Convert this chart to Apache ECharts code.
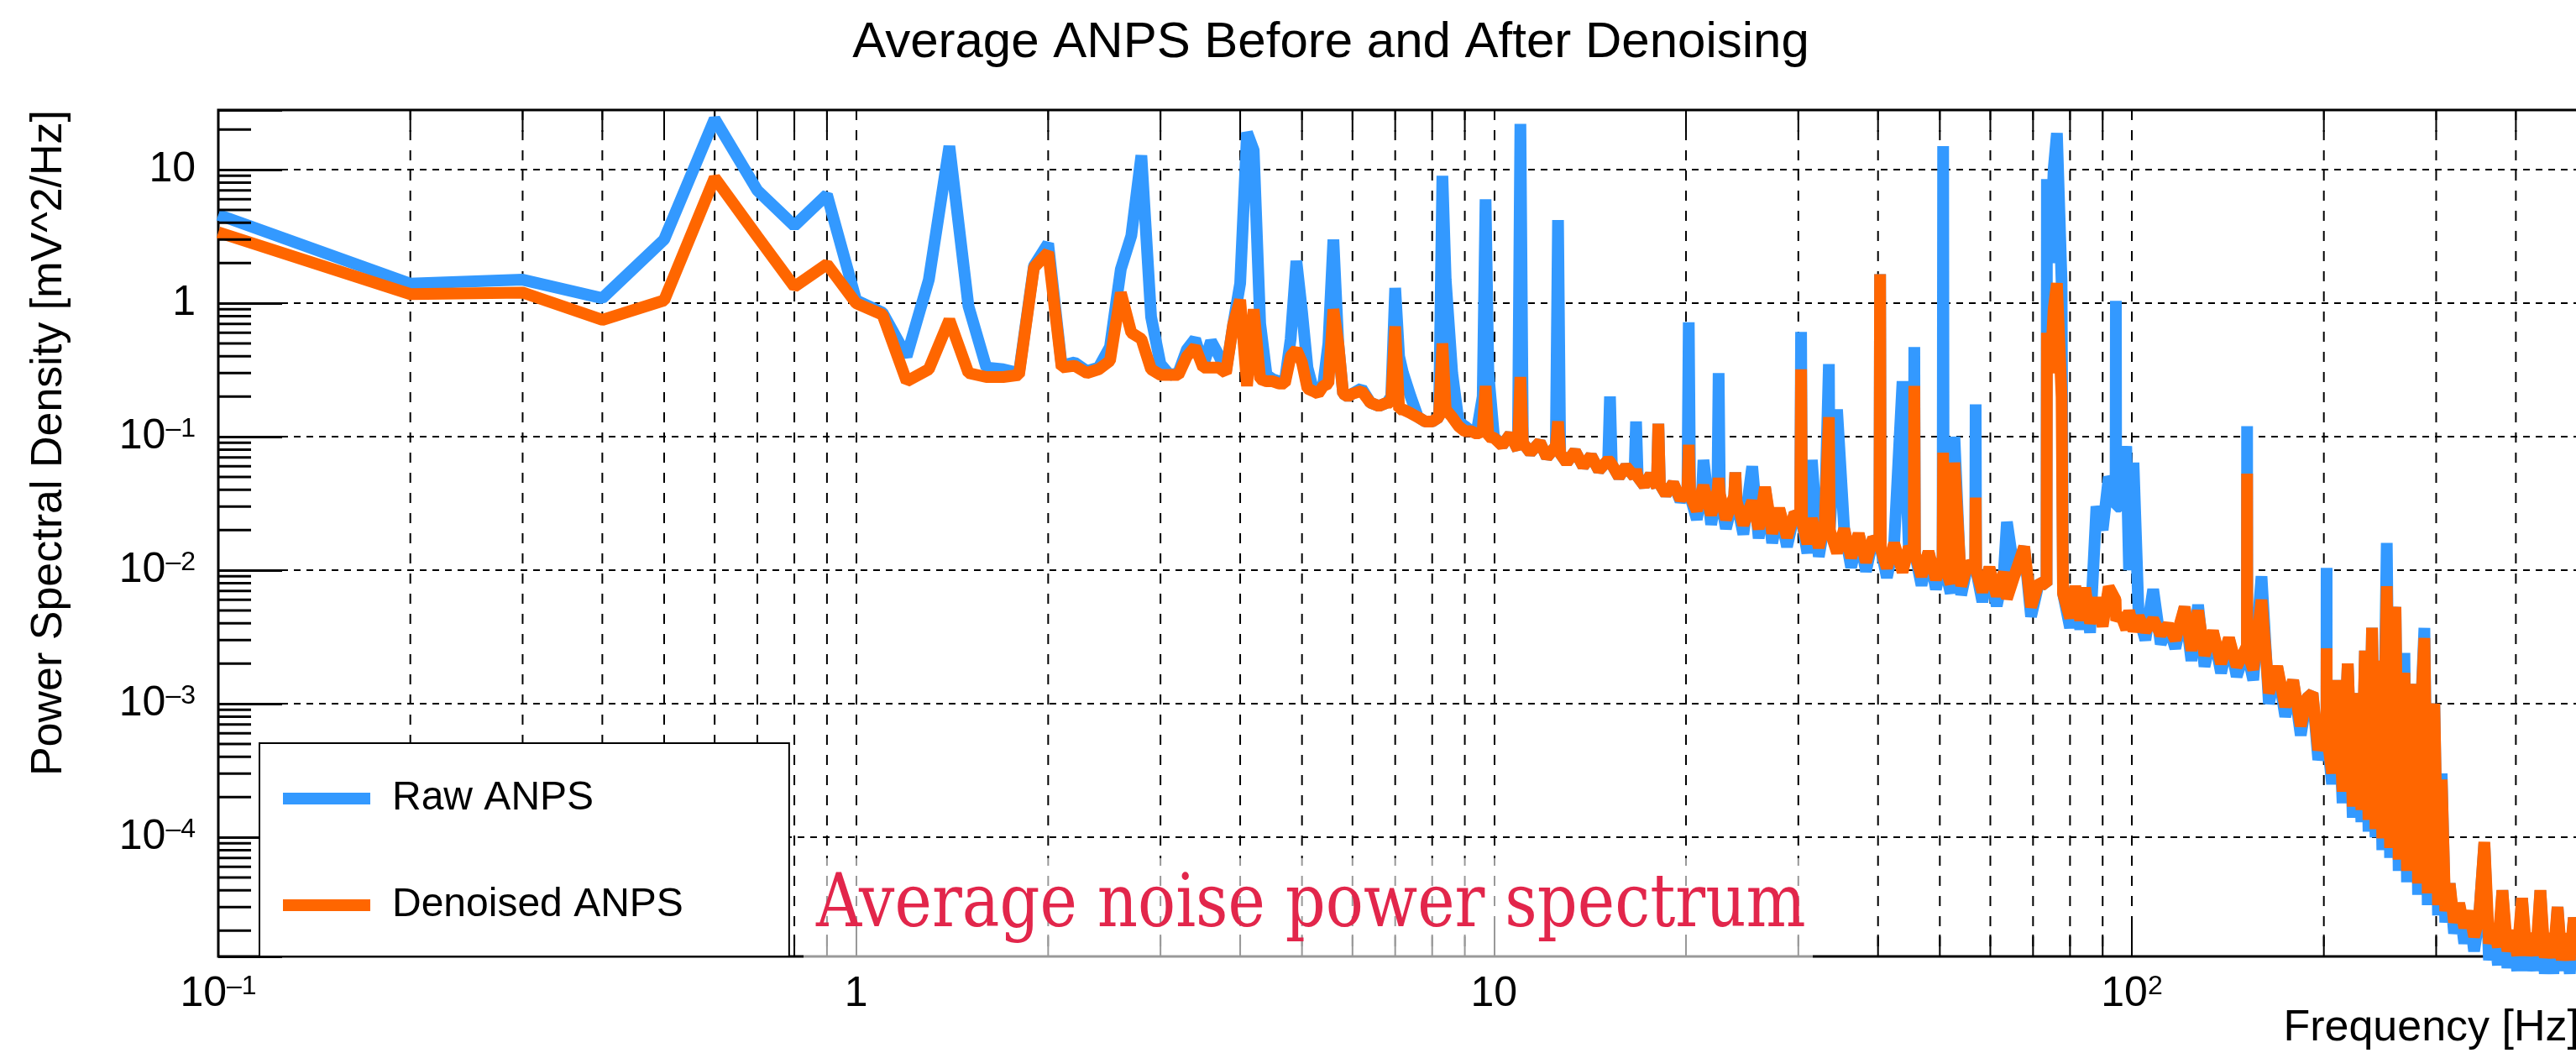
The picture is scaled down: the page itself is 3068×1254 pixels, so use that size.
<!DOCTYPE html>
<html>
<head>
<meta charset="utf-8">
<title>Average ANPS Before and After Denoising</title>
<script src="https://cdn.jsdelivr.net/npm/echarts@6/dist/echarts.min.js"></script>
<style>
  html, body { margin: 0; padding: 0; background: #fff; }
  #main { width: 3068px; height: 1254px; }
</style>
</head>
<body>
<div id="main"></div>
<script>
// frequency bins [Hz]
const freq = [
  0.1, 0.2, 0.3, 0.4, 0.5, 0.6, 0.7, 0.8, 0.9, 1.0,
  1.1, 1.2, 1.3, 1.4, 1.5, 1.6, 1.7, 1.8, 1.9, 2.0,
  2.1, 2.2, 2.3, 2.4, 2.5, 2.6, 2.7, 2.8, 2.9, 3.0,
  3.1, 3.2, 3.3, 3.4, 3.5, 3.6, 3.7, 3.8, 3.9, 4.0,
  4.1, 4.2, 4.3, 4.4, 4.5, 4.6, 4.7, 4.8, 4.9, 5.0,
  5.1, 5.2, 5.3, 5.4, 5.5, 5.6, 5.7, 5.8, 5.9, 6.0,
  6.2, 6.4, 6.6, 6.8, 6.9, 7.0, 7.1, 7.2, 7.4, 7.6,
  7.8, 8.0, 8.2, 8.3, 8.4, 8.6, 8.8, 9.0, 9.2, 9.4,
  9.6, 9.7, 9.8, 10.0, 10.3, 10.6, 10.9, 11.0, 11.1, 11.4,
  11.8, 12.1, 12.5, 12.6, 12.7, 13.0, 13.4, 13.8, 14.2, 14.6,
  15.1, 15.2, 15.3, 15.7, 16.1, 16.6, 16.7, 16.8, 17.2, 17.6,
  18.0, 18.1, 18.2, 18.6, 19.1, 19.6, 20.1, 20.2, 20.3, 20.8,
  21.2, 21.3, 21.9, 22.4, 22.5, 22.6, 23.1, 23.8, 23.9, 24.0,
  24.6, 25.4, 26.0, 26.6, 27.3, 28.0, 28.8, 29.6, 30.2, 30.3,
  30.4, 31.0, 31.5, 32.3, 33.0, 33.5, 33.6, 34.5, 35.4, 36.3,
  37.3, 38.3, 39.3, 40.2, 40.3, 40.4, 41.3, 42.4, 43.7, 44.7,
  45.5, 45.6, 45.7, 46.8, 48.0, 49.3, 50.5, 50.6, 50.7, 52.0,
  52.7, 54.0, 55.4, 56.8, 56.9, 57.0, 58.3, 59.8, 61.4, 63.0,
  63.7, 65.5, 67.8, 69.5, 71.5, 73.5, 73.6, 74.5, 75.4, 76.3,
  77.6, 78.0, 80.0, 81.5, 83.0, 84.5, 86.0, 88.0, 90.0, 92.0,
  94.3, 94.4, 94.5, 96.0, 98.0, 99.0, 100.6, 102.5, 105, 108,
  111, 114, 117, 121, 124, 127, 130, 134, 138, 142,
  146, 151.5, 151.6, 151.7, 155, 159.7, 164, 169, 174, 179,
  184, 188, 192, 196, 201.9, 202, 202.1, 206, 210, 214,
  218, 222, 226, 229, 232, 235, 238, 241, 244, 247,
  251, 254, 256, 259, 262, 265, 267.5, 270, 274, 278,
  281, 284, 287.5, 291, 294, 298, 302, 306, 310, 315,
  320, 326, 332, 338, 344, 350, 357, 363, 369, 375,
  381, 388, 395, 402, 409, 416, 423, 430, 437, 444,
  451, 458, 465, 472, 479, 486, 493, 500
];

// raw ANPS [mV^2/Hz]
const rawPsd = [
  4.6, 1.4, 1.5, 1.09, 3.0, 24, 7.0, 3.8, 6.5, 1.05,
  0.85, 0.4, 1.5, 15, 0.95, 0.33, 0.32, 0.3, 1.9, 2.8,
  0.34, 0.36, 0.31, 0.33, 0.47, 1.8, 3.2, 12.8, 0.79, 0.35,
  0.29, 0.3, 0.45, 0.54, 0.34, 0.52, 0.41, 0.31, 0.69, 1.41,
  19, 14, 0.7, 0.29, 0.27, 0.26, 0.26, 0.54, 2.07, 0.87,
  0.33, 0.23, 0.22, 0.25, 0.5, 3.0, 0.5, 0.21, 0.2, 0.21,
  0.23, 0.18, 0.17, 0.18, 0.2, 1.3, 0.4, 0.3, 0.2, 0.14,
  0.13, 0.13, 0.14, 9, 1.5, 0.3, 0.13, 0.12, 0.11, 0.11,
  0.2, 6, 0.3, 0.1, 0.086, 0.104, 0.08, 22, 0.09, 0.076,
  0.091, 0.07, 0.085, 4.2, 0.075, 0.064, 0.078, 0.06, 0.072, 0.056,
  0.067, 0.2, 0.062, 0.05, 0.06, 0.05, 0.13, 0.05, 0.043, 0.052,
  0.042, 0.125, 0.044, 0.037, 0.045, 0.033, 0.04, 0.72, 0.036, 0.024,
  0.04, 0.067, 0.022, 0.039, 0.3, 0.037, 0.0205, 0.036, 0.054, 0.033,
  0.0186, 0.06, 0.0173, 0.042, 0.016, 0.029, 0.015, 0.0268, 0.025, 0.61,
  0.023, 0.0134, 0.067, 0.0126, 0.0227, 0.35, 0.02, 0.16, 0.0204, 0.0105,
  0.0188, 0.0098, 0.0175, 0.0157, 1.65, 0.0145, 0.0088, 0.0159, 0.26, 0.0149,
  0.0134, 0.47, 0.0134, 0.0077, 0.0138, 0.0072, 0.0123, 15, 0.0112, 0.0067,
  0.1, 0.0065, 0.0115, 0.0101, 0.175, 0.01, 0.0058, 0.0105, 0.0054, 0.0097,
  0.023, 0.0092, 0.015, 0.0045, 0.0081, 0.0078, 8.5, 2, 10, 18.8,
  1.45, 0.0067, 0.0037, 0.0076, 0.0036, 0.0074, 0.0034, 0.03, 0.02, 0.05,
  0.04, 1.04, 0.03, 0.03, 0.085, 0.01, 0.064, 0.0045, 0.003, 0.0072,
  0.0028, 0.0039, 0.0026, 0.0053, 0.0021, 0.0055, 0.0019, 0.0035, 0.0017, 0.0031,
  0.0016, 0.0027, 0.12, 0.0024, 0.0015, 0.009, 0.001, 0.0019, 0.0008, 0.0015,
  0.00058, 0.0011, 0.0012, 0.00038, 0.0007, 0.0104, 0.0006, 0.00025, 0.0015, 0.00018,
  0.002, 0.00014, 0.0012, 0.00013, 0.0025, 0.00011, 0.0037, 0.0001, 0.0021, 8e-5,
  0.016, 7e-5, 0.0028, 0.0053, 5.6e-5, 0.0011, 0.0024, 4.6e-5, 0.0008, 0.0014,
  3.7e-5, 0.0009, 0.0037, 3.1e-5, 0.0006, 0.001, 2.6e-5, 0.0003, 2.3e-5, 4.5e-5,
  1.9e-5, 3.2e-5, 1.6e-5, 2.8e-5, 1.4e-5, 2.4e-5, 9e-5, 1.2e-5, 2.2e-5, 1.1e-5,
  4e-5, 1.05e-5, 2e-5, 1e-5, 3.5e-5, 1e-5, 1.9e-5, 1e-5, 4e-5, 9.5e-6,
  1.9e-5, 9.5e-6, 3e-5, 1e-5, 1.9e-5, 9.5e-6, 2.5e-5, 1.1e-5
];

// denoised ANPS [mV^2/Hz]
const denoisedPsd = [
  3.4, 1.17, 1.2, 0.75, 1.05, 8.7, 3.16, 1.33, 1.96, 1.0,
  0.82, 0.26, 0.32, 0.75, 0.3, 0.28, 0.28, 0.29, 1.85, 2.4,
  0.33, 0.34, 0.3, 0.32, 0.37, 1.2, 0.6, 0.54, 0.32, 0.29,
  0.29, 0.29, 0.4, 0.47, 0.33, 0.33, 0.33, 0.3, 0.69, 1.06,
  0.24, 0.9, 0.27, 0.26, 0.26, 0.25, 0.25, 0.4, 0.45, 0.36,
  0.23, 0.22, 0.21, 0.24, 0.25, 0.9, 0.5, 0.21, 0.2, 0.21,
  0.22, 0.18, 0.17, 0.18, 0.18, 0.67, 0.16, 0.16, 0.15, 0.14,
  0.13, 0.13, 0.14, 0.5, 0.16, 0.14, 0.12, 0.11, 0.11, 0.105,
  0.11, 0.24, 0.1, 0.098, 0.086, 0.104, 0.08, 0.28, 0.09, 0.076,
  0.091, 0.07, 0.085, 0.13, 0.075, 0.064, 0.078, 0.06, 0.072, 0.056,
  0.067, 0.065, 0.062, 0.05, 0.06, 0.05, 0.057, 0.05, 0.043, 0.052,
  0.042, 0.125, 0.044, 0.037, 0.045, 0.034, 0.04, 0.087, 0.036, 0.028,
  0.04, 0.043, 0.026, 0.039, 0.049, 0.037, 0.024, 0.036, 0.054, 0.033,
  0.0219, 0.033, 0.0204, 0.042, 0.0189, 0.029, 0.0176, 0.0268, 0.025, 0.32,
  0.023, 0.0158, 0.0244, 0.0148, 0.0227, 0.14, 0.02, 0.0135, 0.0204, 0.0124,
  0.0188, 0.0115, 0.0175, 0.0157, 1.65, 0.0145, 0.0104, 0.0159, 0.0097, 0.0149,
  0.0134, 0.24, 0.0134, 0.009, 0.0138, 0.0085, 0.0123, 0.076, 0.0112, 0.0079,
  0.064, 0.0076, 0.0115, 0.0101, 0.035, 0.01, 0.0069, 0.0105, 0.0064, 0.0097,
  0.0061, 0.0092, 0.015, 0.0053, 0.0081, 0.0078, 0.6, 0.3, 0.9, 1.41,
  0.2, 0.0067, 0.0044, 0.0076, 0.0042, 0.0074, 0.004, 0.0062, 0.0038, 0.0075,
  0.006, 0.0048, 0.0042, 0.0047, 0.0036, 0.005, 0.0035, 0.0045, 0.0035, 0.0043,
  0.0033, 0.0039, 0.003, 0.0053, 0.0025, 0.005, 0.0023, 0.0035, 0.002, 0.0031,
  0.0019, 0.0027, 0.053, 0.0024, 0.0018, 0.006, 0.0012, 0.0019, 0.00095, 0.0015,
  0.00068, 0.0011, 0.0012, 0.00045, 0.0007, 0.0026, 0.0006, 0.0003, 0.0015, 0.00022,
  0.002, 0.00017, 0.0012, 0.00016, 0.0025, 0.000135, 0.0037, 0.000115, 0.0021, 9.8e-5,
  0.0076, 8.3e-5, 0.0028, 0.0053, 6.8e-5, 0.0011, 0.0017, 5.6e-5, 0.0008, 0.0014,
  4.5e-5, 0.0009, 0.0031, 3.8e-5, 0.0006, 0.001, 3.1e-5, 0.00027, 2.8e-5, 4.5e-5,
  2.3e-5, 3.2e-5, 2.1e-5, 2.8e-5, 1.8e-5, 2.4e-5, 9.2e-5, 1.6e-5, 2.2e-5, 1.5e-5,
  4e-5, 1.4e-5, 2e-5, 1.3e-5, 3.5e-5, 1.3e-5, 1.9e-5, 1.3e-5, 4e-5, 1.25e-5,
  1.9e-5, 1.25e-5, 3e-5, 1.2e-5, 1.9e-5, 1.2e-5, 2.5e-5, 1.3e-5
];

// grid lines / ticks between the decades
const minorFreqs = [
  0.2, 0.3, 0.4, 0.5, 0.6, 0.7, 0.8, 0.9,
  2, 3, 4, 5, 6, 7, 8, 9,
  20, 30, 40, 50, 60, 70, 80, 90,
  200, 300, 400
];
const minorPsd = [
  2e-5, 3e-5, 4e-5, 5e-5, 6e-5, 7e-5, 8e-5, 9e-5,
  2e-4, 3e-4, 4e-4, 5e-4, 6e-4, 7e-4, 8e-4, 9e-4,
  2e-3, 3e-3, 4e-3, 5e-3, 6e-3, 7e-3, 8e-3, 9e-3,
  0.02, 0.03, 0.04, 0.05, 0.06, 0.07, 0.08, 0.09,
  0.2, 0.3, 0.4, 0.5, 0.6, 0.7, 0.8, 0.9,
  2, 3, 4, 5, 6, 7, 8, 9, 20
];

const FONT = '"Liberation Sans", Arial, sans-serif';

function powerLabel(value) {
  const e = Math.round(Math.log10(value));
  if (Math.abs(value / Math.pow(10, e) - 1) > 1e-6) return '';
  if (e === 0) return '{b|1}';
  if (e === 1) return '{b|10}';
  return '{b|10}{s|' + (e < 0 ? '\u2013' + (-e) : e) + '}';
}

const richLabels = {
  b: { fontSize: 50, fontFamily: FONT, color: '#000', lineHeight: 50 },
  s: { fontSize: 32, fontFamily: FONT, color: '#000', lineHeight: 32, verticalAlign: 'top' }
};

function renderMinorX(params, api) {
  const cs = params.coordSys;
  const x = api.coord([api.value(0), 1])[0];
  const top = cs.y;
  const bottom = cs.y + cs.height;
  return {
    type: 'group',
    children: [
      { type: 'line', shape: { x1: x, y1: top, x2: x, y2: bottom },
        style: { stroke: '#000', lineWidth: 2, lineDash: [12, 12] } },
      { type: 'line', shape: { x1: x, y1: bottom, x2: x, y2: bottom - 26 },
        style: { stroke: '#000', lineWidth: 2 } },
      { type: 'line', shape: { x1: x, y1: top, x2: x, y2: top + 26 },
        style: { stroke: '#000', lineWidth: 2 } }
    ]
  };
}

function renderMinorY(params, api) {
  const cs = params.coordSys;
  const y = api.coord([1, api.value(1)])[1];
  return {
    type: 'line',
    shape: { x1: cs.x, y1: y, x2: cs.x + 39, y2: y },
    style: { stroke: '#000', lineWidth: 3 }
  };
}

const rawData = freq.map((f, i) => [f, rawPsd[i]]);
const denoisedData = freq.map((f, i) => [f, denoisedPsd[i]]);

const chart = echarts.init(document.getElementById('main'));

const option = {
  animation: false,
  backgroundColor: '#fff',
  textStyle: { fontFamily: FONT },
  grid: {
    left: 260, right: -2, top: 131, bottom: 115,
    show: true, borderColor: '#000', borderWidth: 3,
    outerBoundsMode: 'none'
  },
  xAxis: {
    type: 'log', logBase: 10, min: 0.1, max: 500,
    axisLine: { show: false },
    axisTick: { inside: true, length: 40, lineStyle: { color: '#000', width: 2 } },
    axisLabel: { margin: 20, formatter: powerLabel, rich: richLabels, color: '#000' },
    splitLine: { show: true, lineStyle: { color: '#000', width: 2, type: [12, 12] } }
  },
  yAxis: {
    type: 'log', logBase: 10, min: 1.28e-5, max: 28,
    axisLine: { show: false },
    axisTick: { inside: true, length: 76, lineStyle: { color: '#000', width: 3 } },
    axisLabel: { margin: 27, formatter: powerLabel, rich: richLabels, color: '#000' },
    splitLine: { show: true, lineStyle: { color: '#000', width: 2, type: [8, 7] } }
  },
  legend: {
    data: ['Raw ANPS', 'Denoised ANPS'],
    orient: 'vertical',
    left: 309, top: 885,
    icon: 'rect', itemWidth: 104, itemHeight: 14, itemGap: 67,
    padding: [36, 126, 31, 28],
    backgroundColor: '#fff', borderColor: '#000', borderWidth: 2,
    selectedMode: false,
    textStyle: { fontSize: 48, color: '#000', lineHeight: 60, fontFamily: FONT, padding: [0, 0, 0, 21] }
  },
  graphic: [
    {
      type: 'text', x: 1585, y: 51,
      style: { text: 'Average ANPS Before and After Denoising', fontSize: 60, fontFamily: FONT,
               fill: '#000', align: 'center', verticalAlign: 'middle' }
    },
    {
      type: 'text', x: 59, y: 131, rotation: Math.PI / 2,
      style: { text: 'Power Spectral Density [mV^2/Hz]', fontSize: 52, fontFamily: FONT,
               fill: '#000', align: 'right', verticalAlign: 'middle' }
    },
    {
      type: 'text', x: 3072, y: 1225,
      style: { text: 'Frequency [Hz]', fontSize: 52, fontFamily: FONT,
               fill: '#000', align: 'right', verticalAlign: 'middle' }
    },
    {
      type: 'rect', z: 100,
      shape: { x: 957, y: 1022, width: 1202, height: 122 },
      style: { fill: 'rgba(255,255,255,0.6)' }
    },
    {
      type: 'text', z: 101, x: 972, y: 1080, scaleY: 1.18,
      style: { text: 'Average noise power spectrum', fontSize: 75, fontFamily: '"DejaVu Serif", serif',
               fill: '#e2264b', align: 'left', verticalAlign: 'middle' }
    }
  ],
  series: [
    {
      type: 'custom', name: 'minorX', silent: true, z: 1,
      renderItem: renderMinorX,
      data: minorFreqs.map(f => [f, 1])
    },
    {
      type: 'line', name: 'Raw ANPS', data: rawData,
      color: '#3399ff', showSymbol: false, symbol: 'none', clip: false,
      lineStyle: { width: 14, color: '#3399ff', join: 'bevel' }, z: 2
    },
    {
      type: 'line', name: 'Denoised ANPS', data: denoisedData,
      color: '#ff6600', showSymbol: false, symbol: 'none', clip: false,
      lineStyle: { width: 14, color: '#ff6600', join: 'bevel' }, z: 3
    },
    {
      type: 'custom', name: 'minorY', silent: true, z: 4,
      renderItem: renderMinorY,
      data: minorPsd.map(v => [1, v])
    }
  ]
};

chart.setOption(option);
</script>
</body>
</html>
